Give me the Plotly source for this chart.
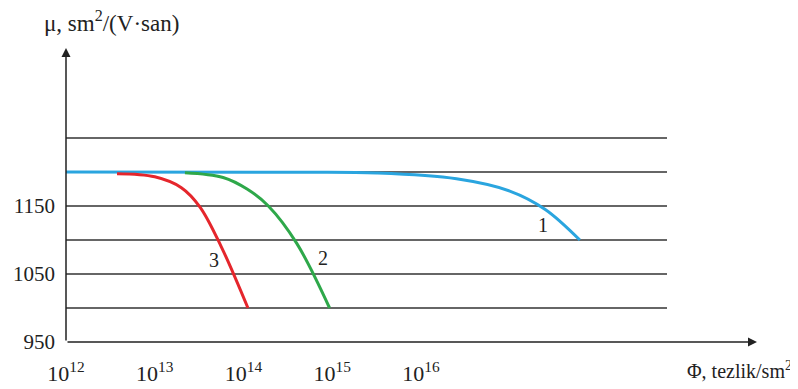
import plotly.graph_objects as go

# log10(flux) values and mobility values
curve1_logphi = [12.0, 14.5, 15.5, 16.4, 17.0, 17.4, 17.79]
curve1_mu = [1200, 1199.5, 1198.5, 1190, 1172, 1145, 1100]

curve2_logphi = [13.34, 13.77, 14.04, 14.28, 14.60, 14.97]
curve2_mu = [1199, 1192, 1175, 1150, 1095, 1000]

curve3_logphi = [12.575, 13.0, 13.3, 13.51, 13.75, 14.05]
curve3_mu = [1197.5, 1193, 1177, 1148.5, 1090, 1000]

grid_levels = [1000, 1050, 1100, 1150, 1200, 1250]
y_tick_vals = [950, 1050, 1150]
x_tick_vals = [12, 13, 14, 15, 16]
x_tick_text = ["10<sup>12</sup>", "10<sup>13</sup>", "10<sup>14</sup>", "10<sup>15</sup>", "10<sup>16</sup>"]

curve_labels = ["1", "2", "3"]
label_pos_x = [17.37, 14.90, 13.67]
label_pos_y = [1122, 1073, 1070]

FONT = "Liberation Serif"
TXT = "#222222"

fig = go.Figure()
for xs, ys, col in [(curve1_logphi, curve1_mu, "#2aa5df"),
                    (curve2_logphi, curve2_mu, "#2ea84a"),
                    (curve3_logphi, curve3_mu, "#e5262c")]:
    fig.add_trace(go.Scatter(x=xs, y=ys, mode="lines",
                             line=dict(color=col, width=3, shape="spline", smoothing=1.0),
                             showlegend=False, hoverinfo="skip"))

x_min, x_max = 12.0, 12.0 + 691 / 88.75
y_min, y_max = 950, 950 + 294 * 50 / 34
grid_end = 12.0 + 601 / 88.75

shapes = []
for g in grid_levels:
    shapes.append(dict(type="line", xref="x", yref="y", x0=x_min, x1=grid_end, y0=g, y1=g,
                       line=dict(color="#333333", width=1.5), layer="below"))
fig.update_layout(shapes=shapes)

annotations = []
# axis arrows
annotations.append(dict(xref="paper", yref="paper", x=0, y=1, ax=0, ay=294, axref="pixel", ayref="pixel",
                        showarrow=True, arrowhead=2, arrowsize=1.2, arrowwidth=1.5, arrowcolor="#222222", text=""))
annotations.append(dict(xref="paper", yref="paper", x=1, y=0, ax=-691, ay=0, axref="pixel", ayref="pixel",
                        showarrow=True, arrowhead=2, arrowsize=1.2, arrowwidth=1.5, arrowcolor="#222222", text=""))
for t, lx, ly in zip(curve_labels, label_pos_x, label_pos_y):
    annotations.append(dict(x=lx, y=ly, xref="x", yref="y", text=t, showarrow=False,
                            xanchor="center", yanchor="middle",
                            font=dict(family=FONT, size=20, color=TXT)))
annotations.append(dict(xref="paper", yref="paper", x=(111 - 66) / 691, y=(334 - 14) / 294,
                        xanchor="center", yanchor="middle", text="μ, sm<sup>2</sup>/(V·san)",
                        showarrow=False, font=dict(family=FONT, size=23, color=TXT)))
annotations.append(dict(xref="paper", yref="paper", x=(786 - 58) / 691, y=(334 - 362) / 294,
                        xanchor="right", yanchor="middle",
                        text="Φ, tezlik/sm<sup>2</sup>", showarrow=False,
                        font=dict(family=FONT, size=20, color=TXT)))
fig.update_layout(annotations=annotations)

fig.update_xaxes(range=[x_min, x_max], tickvals=x_tick_vals, ticktext=x_tick_text,
                 showgrid=False, zeroline=False, showline=False, ticks="", automargin=False,
                 ticklabelstandoff=16, tickfont=dict(family=FONT, size=22, color=TXT))
fig.update_yaxes(range=[y_min, y_max], tickvals=y_tick_vals,
                 showgrid=False, zeroline=False, showline=False, ticks="", automargin=False,
                 ticklabelstandoff=10, tickfont=dict(family=FONT, size=21, color=TXT))

# the page body adds an 8px offset, so the figure is 8px smaller and margins shifted
fig.update_layout(width=790, height=381, margin=dict(l=58, r=41, t=40, b=47),
                  plot_bgcolor="white", paper_bgcolor="white")

fig.write_html("out.html")
